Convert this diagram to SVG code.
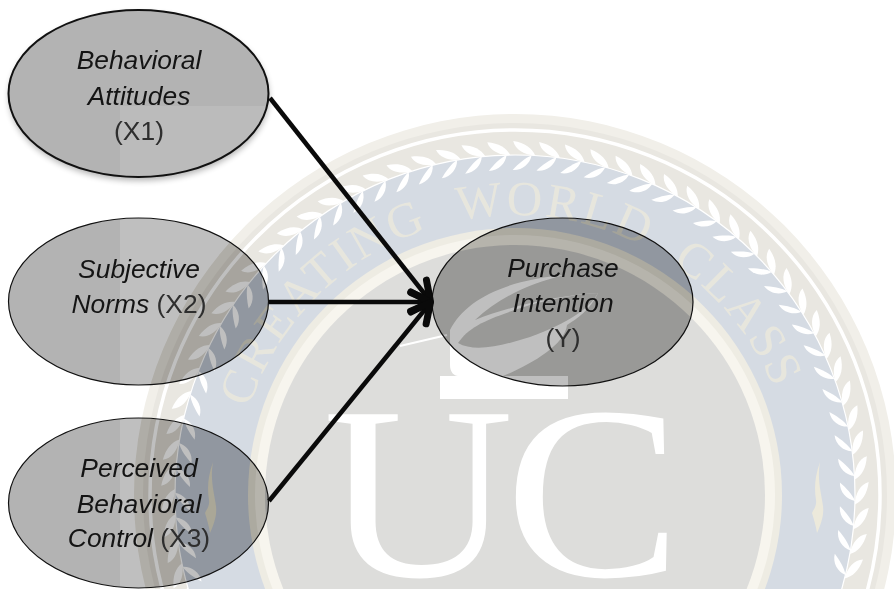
<svg xmlns="http://www.w3.org/2000/svg" width="894" height="589" viewBox="0 0 894 589">
<style>
.lbl{font-family:"Liberation Sans",Arial,sans-serif;font-size:26.4px;text-anchor:middle;fill:#141414}
.it{font-style:italic}
.pl{fill:#2e2e2e}
.oval{fill:none;stroke:#111;stroke-width:1.2}
.arrow{fill:none;stroke:#0a0a0a;stroke-width:4.5;marker-end:url(#head)}
</style>
<defs>
<marker id="head" markerUnits="userSpaceOnUse" viewBox="-30 -20 40 40" refX="0" refY="0" markerWidth="40" markerHeight="40" orient="auto">
<path d="M-20,-10 L-1,0 L-20,10" fill="none" stroke="#0a0a0a" stroke-width="7" stroke-linecap="round" stroke-linejoin="round"/>
</marker>
<filter id="dim" filterUnits="userSpaceOnUse" x="0" y="0" width="894" height="589" color-interpolation-filters="sRGB">
<feComponentTransfer>
<feFuncR type="linear" slope="1.1" intercept="-0.35"/>
<feFuncG type="linear" slope="1.1" intercept="-0.35"/>
<feFuncB type="linear" slope="1.1" intercept="-0.35"/>
</feComponentTransfer>
</filter>
<filter id="soft" x="-20%" y="-20%" width="140%" height="140%"><feGaussianBlur stdDeviation="3"/></filter>
<clipPath id="c1"><ellipse cx="138.5" cy="93.5" rx="130" ry="83.5"/></clipPath>
<clipPath id="c2"><ellipse cx="138.5" cy="301.5" rx="130" ry="83.5"/></clipPath>
<clipPath id="c3"><ellipse cx="138.5" cy="503" rx="130" ry="85"/></clipPath>
<clipPath id="c4"><ellipse cx="562.5" cy="302" rx="130.5" ry="84"/></clipPath>
<path id="arcT" d="M235 495 A280 280 0 0 1 795 495"/>
<path id="flame" d="M0,0 C-5,14 -6,26 -4,38 C-3,44 -7,48 -8,51 C-6,58 -4,64 -3,71 C2,60 4,52 3,44 C1,30 -3,18 0,0 Z" fill="#ece9db"/>
<g id="p1" fill="#fff" transform="translate(515 155) scale(1.2)">
<path d="M0,0 C-3,-6 -9,-10 -19,-11 C-17,-4 -9,0 0,0 Z"/>
<path d="M-3,0 C-8,2 -14,8 -18,13 C-10,13 -4,7 -3,0 Z"/>
</g>
<g id="p2"><use href="#p1"/><use href="#p1" transform="rotate(4.2 515 495)"/></g>
<g id="p4"><use href="#p2"/><use href="#p2" transform="rotate(8.4 515 495)"/></g>
<g id="p8"><use href="#p4"/><use href="#p4" transform="rotate(16.8 515 495)"/></g>
<g id="p16"><use href="#p8"/><use href="#p8" transform="rotate(33.6 515 495)"/></g>
<g id="p32"><use href="#p16"/><use href="#p16" transform="rotate(67.2 515 495)"/></g>
<g id="wm">
<rect width="894" height="589" fill="#fff"/>
<circle cx="515" cy="495" r="381" fill="#f1efe9"/>
<circle cx="515" cy="495" r="372" fill="#e9e7e1"/>
<circle cx="515" cy="495" r="365" fill="none" stroke="#fff" stroke-width="3.5"/>
<circle cx="515" cy="495" r="340" fill="#d5dbe3" stroke="#fff" stroke-width="1.2"/>
<g transform="rotate(-110 515 495)"><use href="#p32"/><use href="#p16" transform="rotate(134.4 515 495)"/><use href="#p4" transform="rotate(201.6 515 495)"/></g>
<circle cx="515" cy="495" r="267" fill="#eeece3"/>
<circle cx="515" cy="495" r="260" fill="#f7f5ee"/>
<circle cx="515" cy="495" r="250" fill="#dddddb"/>
<text font-family="'Liberation Serif',serif" font-size="49" letter-spacing="2.8" word-spacing="15" fill="#ebe9dd" opacity=".85"><textPath href="#arcT" startOffset="88">CREATING WORLD CLASS</textPath></text>
<use href="#flame" transform="translate(820 462)"/>
<use href="#flame" transform="translate(213 462)"/>
<path d="M400 346 L447 335" stroke="#fff" stroke-width="2" fill="none"/>
<path d="M450 330 C465 300 505 280 565 275 C530 283 498 298 475 320 C510 306 560 295 598 293 C590 310 578 318 567 325 C565 345 530 365 503 376 L568 376 L568 399 L440 399 L440 376 L458 376 C454 376 450 372 450 365 Z" fill="#fff"/>
<path d="M458 343 C470 325 490 318 530 305 C560 297 580 294 598 293 C590 308 570 322 530 337 C505 345 475 353 458 343 Z" fill="#dddddb"/>
<text transform="translate(323 576) scale(1.07 1)" font-family="'Liberation Serif',serif" font-size="247" fill="#fff">U</text>
<text transform="translate(505 576) scale(1.07 1)" font-family="'Liberation Serif',serif" font-size="247" fill="#fff">C</text>
</g>
</defs>
<g id="background"><use href="#wm"/></g>
<g id="node-x1">
<ellipse cx="139" cy="97" rx="130" ry="83.5" fill="#000" opacity=".3" filter="url(#soft)"/>
<g clip-path="url(#c1)"><use href="#wm" filter="url(#dim)"/><rect width="894" height="589" fill="#000" opacity=".02"/><path d="M0 0H300V106H120V200H0Z" fill="#000" opacity=".045"/></g>
<ellipse class="oval" style="stroke-width:2" cx="138.5" cy="93.5" rx="130" ry="83.5"/>
<text class="lbl it" x="139" y="69">Behavioral</text>
<text class="lbl it" x="139" y="105">Attitudes</text>
<text class="lbl pl" x="139" y="140">(X1)</text>
</g>
<g id="node-x2">
<g clip-path="url(#c2)"><use href="#wm" filter="url(#dim)"/><rect width="120" height="589" fill="#000" opacity=".06"/></g>
<ellipse class="oval" cx="138.5" cy="301.5" rx="130" ry="83.5"/>
<text class="lbl it" x="139" y="278">Subjective</text>
<text class="lbl" x="139" y="313"><tspan class="it">Norms</tspan><tspan class="pl"> (X2)</tspan></text>
</g>
<g id="node-x3">
<g clip-path="url(#c3)"><use href="#wm" filter="url(#dim)"/><rect width="120" height="589" fill="#000" opacity=".06"/></g>
<ellipse class="oval" cx="138.5" cy="503" rx="130" ry="85"/>
<text class="lbl it" x="139" y="477">Perceived</text>
<text class="lbl it" x="139" y="513">Behavioral</text>
<text class="lbl" x="139" y="547"><tspan class="it">Control</tspan><tspan class="pl"> (X3)</tspan></text>
</g>
<g id="node-y">
<g clip-path="url(#c4)"><use href="#wm" filter="url(#dim)"/></g>
<ellipse class="oval" cx="562.5" cy="302" rx="130.5" ry="84"/>
<text class="lbl it" x="563" y="277">Purchase</text>
<text class="lbl it" x="563" y="312">Intention</text>
<text class="lbl pl" x="563" y="347">(Y)</text>
</g>
<g id="connectors">
<path class="arrow" d="M270 98 L431 302"/>
<path class="arrow" d="M269 302 L431 302"/>
<path class="arrow" d="M269 501 L431 302"/>
</g>
</svg>
